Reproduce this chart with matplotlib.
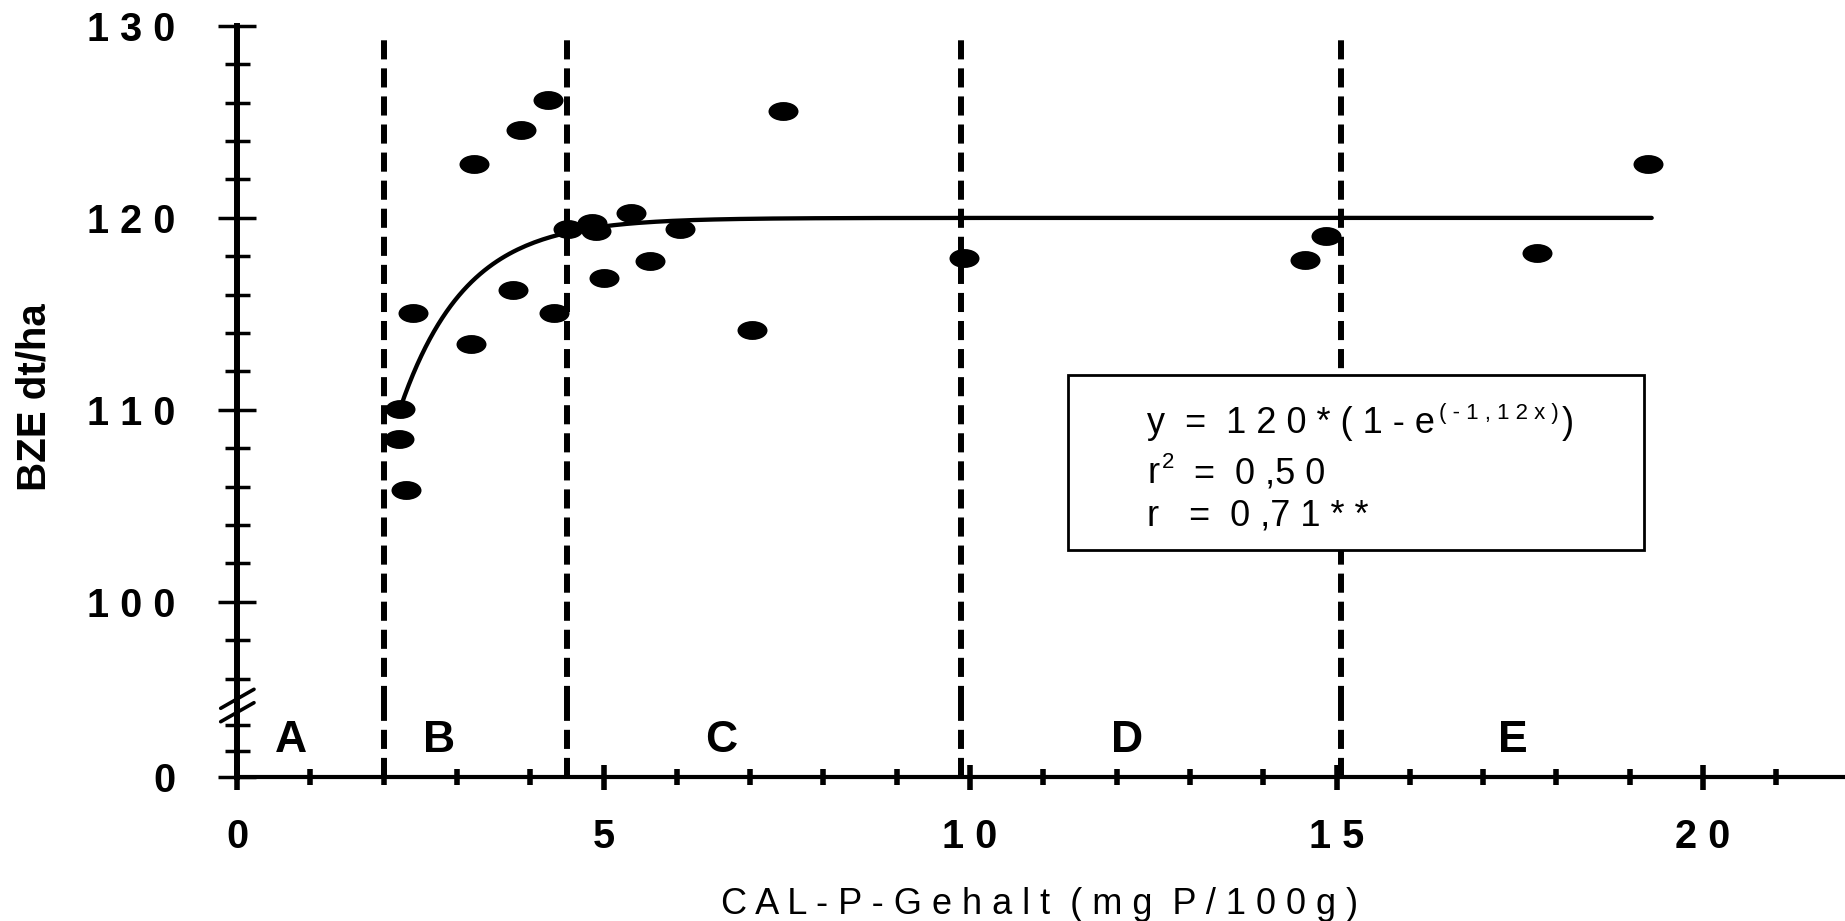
import numpy as np
import matplotlib
matplotlib.use('Agg')
import matplotlib.pyplot as plt
from matplotlib.path import Path
from matplotlib.transforms import Affine2D
from matplotlib.patches import Rectangle
from matplotlib.lines import Line2D
from matplotlib.ticker import FixedLocator, MultipleLocator

plt.rcParams['font.family'] = ['Liberation Sans', 'DejaVu Sans']

# CAL-P content (mg P/100g) and yield (BZE dt/ha)
cal_p = [2.23, 2.21, 2.30, 2.40, 3.19, 3.24, 3.76, 3.88, 4.24, 4.33, 4.51, 4.84,
         4.90, 5.00, 5.38, 5.63, 6.04, 7.02, 7.45, 9.92, 14.57, 14.86, 17.74, 19.25]
bze = [110.05, 108.48, 105.83, 115.03, 113.42, 122.80, 116.26, 124.60, 126.14,
       115.03, 119.41, 119.75, 119.32, 116.87, 120.27, 117.74, 119.42, 114.16,
       125.57, 117.93, 117.80, 119.06, 118.16, 122.80]

# fitted curve y = a * (1 - exp(-b x))
fit_a = 120.0
fit_b = 1.12
fit_x_range = (2.23, 19.3)

# supply classes
class_bounds = [2.0, 4.5, 9.88, 15.06]
class_names = ['A', 'B', 'C', 'D', 'E']
class_label_x = [0.74, 2.76, 6.61, 12.14, 17.41]

x_major = [0, 5, 10, 15, 20]
y_major = [100, 110, 120, 130]
y_low_major = [0]
y_low_minor = [1, 2]

W, H = 1845, 921
DPI = 100


def fx(px):
    return px / W


def fy(px):
    return 1 - px / H


def spaced(v):
    return ' '.join(str(v))


fig = plt.figure(figsize=(W / DPI, H / DPI), dpi=DPI)

# layout (pixels): y axis at x=237, 73.3 px per x unit, break at y=705
x0_px, x_unit = 237, 73.3
top_px, join_px, base_px = 25.9, 705.0, 776.6
y_unit_top, y_unit_low = 19.2, 26.0
top_ylow = 130 - (join_px - top_px) / y_unit_top
low_ytop = (base_px - join_px) / y_unit_low

ax_w = 22 * x_unit / W
ax = fig.add_axes([fx(x0_px), fy(join_px), ax_w, (join_px - top_px) / H])
axb = fig.add_axes([fx(x0_px), fy(base_px), ax_w, (base_px - join_px) / H])

for a in (ax, axb):
    a.set_xlim(0, 22)
    a.patch.set_visible(False)
    a.spines['top'].set_visible(False)
    a.spines['right'].set_visible(False)
    a.spines['left'].set_linewidth(4.3)
ax.spines['bottom'].set_visible(False)
axb.spines['bottom'].set_linewidth(3)

ax.set_ylim(top_ylow, 130)
axb.set_ylim(0, low_ytop)

# y ticks
ax.yaxis.set_major_locator(FixedLocator(y_major))
ax.yaxis.set_minor_locator(MultipleLocator(2))
ax.set_yticklabels([spaced(v) for v in y_major], fontweight='bold')
axb.yaxis.set_major_locator(FixedLocator(y_low_major))
axb.yaxis.set_minor_locator(FixedLocator(y_low_minor))
axb.set_yticklabels([spaced(v) for v in y_low_major], fontweight='bold')
for a in (ax, axb):
    a.tick_params(axis='y', which='major', direction='inout', length=28,
                  width=2.5, pad=30.6, labelsize=28.5)
    a.tick_params(axis='y', which='minor', direction='inout', length=18, width=2.5)

# x ticks
ax.tick_params(axis='x', which='both', bottom=False, labelbottom=False)
axb.xaxis.set_major_locator(FixedLocator(x_major))
axb.xaxis.set_minor_locator(MultipleLocator(1))
axb.set_xticklabels([spaced(v) for v in x_major], fontweight='bold')
axb.tick_params(axis='x', which='major', direction='inout', length=18, width=4,
                pad=20.8, labelsize=28.5)
axb.tick_params(axis='x', which='minor', direction='inout', length=11.5, width=4)

# class boundaries
dash_style = dict(color='k', lw=4.3, dashes=(3.2, 1.5), dash_capstyle='butt', zorder=2)
dash_top = 129.6
for b in class_bounds:
    ax.axvline(b, ymin=0, ymax=(dash_top - top_ylow) / (130 - top_ylow), **dash_style)
    axb.axvline(b, **dash_style)

for name, xl in zip(class_names, class_label_x):
    axb.text(xl, 1.4, name, fontsize=32, fontweight='bold', ha='center', va='center')

# fitted curve
xs = np.linspace(fit_x_range[0], fit_x_range[1], 300)
ax.plot(xs, fit_a * (1 - np.exp(-fit_b * xs)), color='k', lw=3.1,
        solid_capstyle='round', zorder=3)

# data points as flat ellipses
ellipse = Path.unit_circle().transformed(Affine2D().scale(1, 0.63))
ax.plot(cal_p, bze, ls='none', marker=ellipse, ms=21.6, mew=0, color='k', zorder=4)

# axis break marks
for dy in (0, 13.4):
    fig.add_artist(Line2D([fx(220.7), fx(254)], [fy(708.3 + dy), fy(689.3 + dy)],
                          color='k', lw=2.6, solid_capstyle='round'))

# equation box (opaque, hides the class line behind it)
ax.add_patch(Rectangle((fx(1068), fy(550)), (1644 - 1068) / W, 175 / H,
                       transform=fig.transFigure, clip_on=False,
                       fc='white', ec='k', lw=2, zorder=5))
fs_box, fs_sup = 26, 16
t1 = ax.text(fx(1147), fy(433), 'y  =  1 2 0 * ( 1 - e', fontsize=fs_box,
             va='baseline', transform=fig.transFigure, zorder=6)
t1s = ax.annotate('( - 1 , 1 2 x )', xy=(1, 0), xycoords=t1, xytext=(3, 12),
                  textcoords='offset points', fontsize=fs_sup, va='bottom', zorder=6)
ax.annotate(')', xy=(1, 0), xycoords=(t1s, t1), xytext=(2, 0),
            textcoords='offset points', fontsize=fs_box, va='bottom', zorder=6)

t2 = ax.text(fx(1147), fy(483), 'r', fontsize=fs_box, va='baseline',
             transform=fig.transFigure, zorder=6)
t2s = ax.annotate('2', xy=(1, 0), xycoords=t2, xytext=(2, 13),
                  textcoords='offset points', fontsize=fs_sup, va='bottom', zorder=6)
ax.annotate('  =  0 ,5 0', xy=(1, 0), xycoords=(t2s, t2), xytext=(0, 0),
            textcoords='offset points', fontsize=fs_box, va='bottom', zorder=6)

ax.text(fx(1147), fy(525), 'r   =  0 ,7 1 * *', fontsize=fs_box, va='baseline',
        transform=fig.transFigure, zorder=6)

# axis titles
fig.text(fx(35), fy(397), 'BZE dt/ha', rotation=90, fontsize=29, fontweight='bold',
         ha='center', va='center')
fig.text(fx(1040), fy(904), 'C A L - P - G e h a l t  ( m g  P / 1 0 0 g )',
         fontsize=26, ha='center', va='center')

fig.savefig('out.png', dpi=DPI)
